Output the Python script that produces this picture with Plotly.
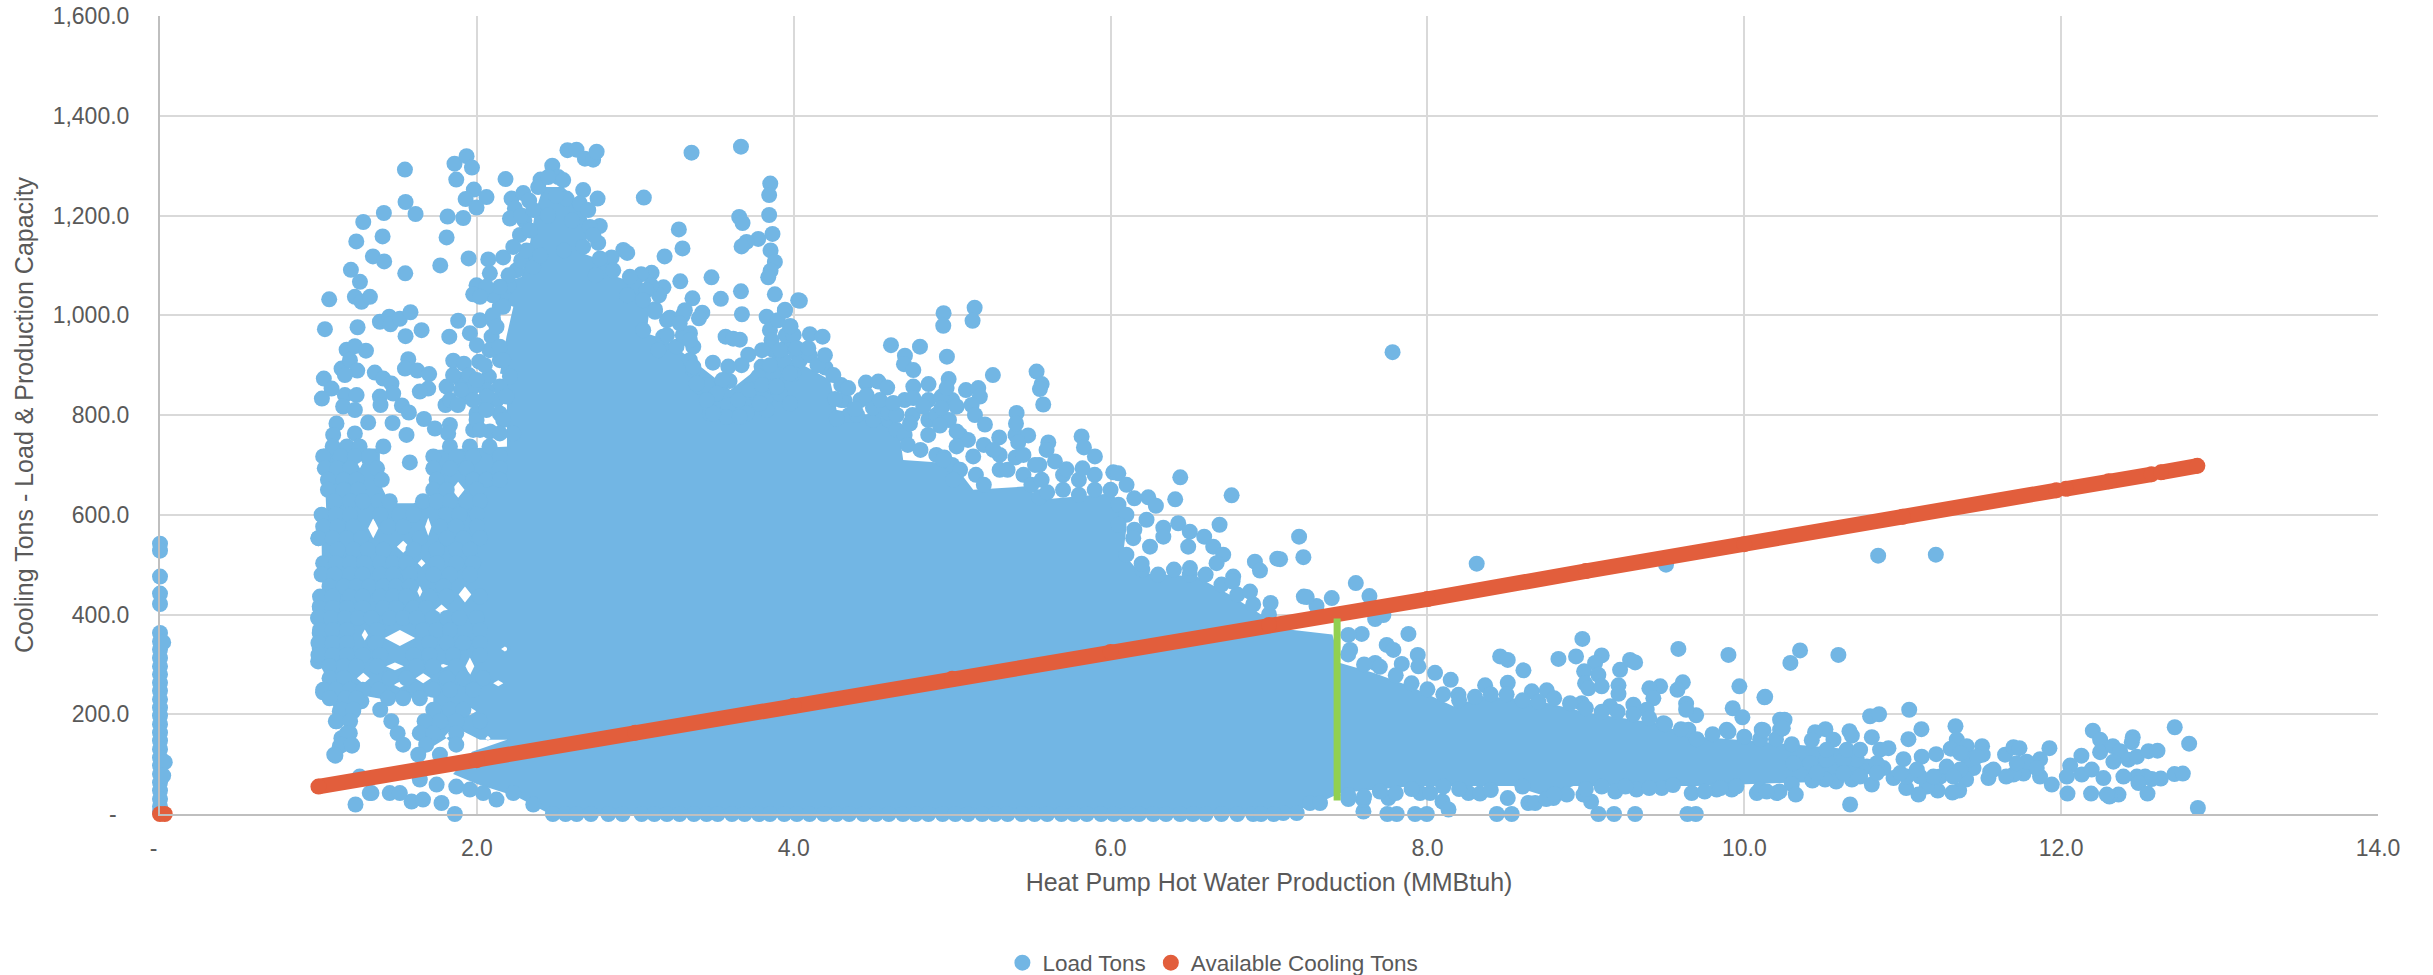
import plotly.graph_objects as go

FONT = "Liberation Sans"
TEXT = "#595959"
BLUE = "#72B6E4"
RED = "#E25E3C"
GREEN = "#92D050"

x_ticks = [0, 2, 4, 6, 8, 10, 12, 14]
x_labels = ["-\u00a0\u00a0", "2.0", "4.0", "6.0", "8.0", "10.0", "12.0", "14.0"]
y_ticks = [0, 200, 400, 600, 800, 1000, 1200, 1400, 1600]
y_labels = ["-\u00a0\u00a0", "200.0", "400.0", "600.0", "800.0", "1,000.0", "1,200.0", "1,400.0", "1,600.0"]

# Load Tons at zero production
zero_column_y = [542, 528, 476, 442, 421, 363, 346, 330, 313, 296, 280, 263, 247, 230, 213, 197, 180, 163,
                 147, 130, 113, 97, 80, 63, 47, 30, 15, 4]
zero_side = [(0.02, 344), (0.03, 104), (0.02, 77)]

# far-left band, read row by row
band_y = [737, 717, 693, 670, 650, 627, 600, 576, 553, 530, 503, 480, 456, 436, 413, 393, 369, 343, 319, 296,
          272, 249, 232, 209, 186, 162, 139, 119]
band_x = [
    [1.09, 1.18, 1.26, 1.41, 1.83, 1.956, 2.08],
    [1.03, 1.14, 1.23, 1.32, 1.725, 1.87, 1.977, 2.145],
    [1.04, 1.12, 1.2, 1.37, 1.725, 1.83, 1.935, 2.145],
    [1.06, 1.16, 1.24, 1.4, 1.746, 1.977, 2.06, 2.145],
    [1.06, 1.16, 1.25, 1.725, 1.81, 2.0],
    [1.1, 1.2, 1.28, 1.38, 1.45, 1.66, 1.746, 1.83, 1.935, 2.02],
    [1.02, 1.11, 1.2, 1.39, 1.51, 1.6, 1.81, 1.89, 2.0],
    [1.03, 1.12, 1.22, 1.44, 1.535, 1.767, 1.87, 2.0],
    [1.0, 1.09, 1.18, 1.27, 1.64, 1.81, 1.915, 2.02],
    [1.12, 1.22, 1.31, 1.41, 1.6, 1.746, 1.87, 1.956],
    [1.03, 1.11, 1.2, 1.29, 1.39, 1.47, 1.555, 1.746, 1.87, 1.977],
    [1.02, 1.1, 1.2, 1.28, 1.39, 1.47, 1.577, 1.725, 1.83, 1.956],
    [1.07, 1.16, 1.24, 1.32, 1.41, 1.49, 1.577, 1.79],
    [1.01, 1.09, 1.2, 1.28, 1.39, 1.47, 1.555, 1.7, 1.81, 2.02],
    [1.01, 1.09, 1.18, 1.28, 1.41, 1.49, 1.6, 1.68],
    [1.0, 1.08, 1.17, 1.25, 1.335, 1.45, 1.535, 1.62, 1.725, 1.81, 1.89, 2.0],
    [1.01, 1.09, 1.18, 1.37, 1.66, 1.746, 1.83, 2.02],
    [1.0, 1.09, 1.18, 1.36, 1.7, 1.81, 1.915, 2.02],
    [1.0, 1.09, 1.18, 1.28, 1.39, 1.6, 1.7, 1.85, 2.02],
    [1.07, 1.16, 1.24, 1.37, 1.62, 1.725, 1.87],
    [1.07, 1.16, 1.45, 1.555, 1.81, 1.915, 2.04],
    [1.03, 1.11, 1.2, 1.28, 1.38, 1.62, 1.725, 1.83, 1.977],
    [1.07, 1.17, 1.24, 1.44, 1.535, 1.64],
    [1.15, 1.22, 1.39, 1.725, 1.83, 1.915],
    [1.11, 1.2, 1.46, 1.67, 1.767, 1.87, 2.02],
    [1.18, 1.5, 1.64, 1.725, 1.87],
    [1.15, 1.21, 1.535, 1.68, 1.87],
    [1.1, 1.63, 1.767],
]
band_upper = [
    (1.0, 553), (1.05, 570), (1.135, 530), (1.05, 490), (1.008, 416), (0.998, 393), (1.008, 363), (1.008, 333),
    (0.998, 306), (1.029, 244), (1.114, 186), (1.135, 206), (1.219, 206), (1.271, 226), (1.198, 162),
    (1.145, 152), (1.212, 137), (1.135, 136), (1.107, 117), (1.577, 705),
]
bottom_left = [
    (1.335, 42), (1.45, 42), (1.588, 25), (1.66, 29), (1.777, 22), (1.234, 19), (1.861, 0), (1.746, 59),
    (1.64, 69), (1.26, 75), (1.956, 49), (2.124, 29), (2.23, 42), (2.356, 19), (2.04, 42), (1.87, 55), (1.514, 42),
    (1.324, 42),
]
top_left = [
    (1.546, 1292), (1.55, 1227), (1.613, 1203), (1.413, 1205), (1.283, 1187), (1.405, 1158), (1.239, 1148),
    (1.344, 1118), (1.415, 1108), (1.205, 1091), (1.548, 1084), (1.262, 1067), (1.068, 1032), (1.23, 1037),
    (1.272, 1027), (1.325, 1037), (1.041, 972), (1.247, 976), (1.388, 987), (1.447, 997), (1.455, 982),
    (1.514, 993), (1.581, 1006), (1.55, 958), (1.651, 970), (1.178, 931), (1.23, 938), (1.3, 929), (1.146, 893),
    (1.199, 910), (1.245, 889), (1.167, 880), (1.034, 873), (1.083, 853), (1.022, 833), (1.167, 840), (1.241, 840),
    (1.156, 817), (1.23, 810), (1.314, 785), (1.114, 783), (1.23, 763), (1.093, 760), (1.356, 885), (1.409, 873),
    (1.461, 863), (1.472, 843), (1.388, 837), (1.392, 820), (1.527, 819), (1.571, 805), (1.468, 784), (1.567, 912),
    (1.546, 893), (1.624, 889), (1.699, 882), (1.693, 853), (1.64, 847), (1.666, 792), (1.735, 773), (1.556, 760),
    (1.859, 1304), (1.935, 1319), (1.969, 1296), (1.87, 1272), (1.981, 1252), (2.061, 1237), (1.929, 1233),
    (1.998, 1216), (1.815, 1198), (1.914, 1195), (1.809, 1156), (1.948, 1114), (1.769, 1100), (2.072, 1112),
    (2.166, 1116), (2.082, 1084), (2.181, 1273), (2.219, 1234), (2.24, 1214), (2.293, 1245), (2.209, 1194),
    (2.272, 1161), (1.998, 1060), (1.977, 1042), (1.882, 989), (2.019, 990), (1.826, 957), (1.956, 964),
    (1.851, 909), (1.918, 903), (2.015, 907), (2.076, 877), (1.897, 871), (1.809, 857), (1.802, 820), (1.83, 830),
    (1.935, 837), (1.83, 780), (1.998, 803), (2.061, 817), (2.124, 830), (2.145, 857), (2.145, 910), (2.124, 930),
    (2.093, 957), (2.145, 1017), (2.103, 990), (2.166, 1044), (1.977, 857), (2.061, 850), (1.977, 770),
    (2.082, 767), (1.819, 763), (1.998, 790), (2.145, 803),
    (1.85, 880), (1.9, 850), (1.88, 820), (1.95, 880), (2.0, 870), (2.05, 900), (2.08, 930), (2.0, 940), (2.1, 1000),
    (2.1, 1040), (2.2, 1060), (2.25, 1090), (2.2, 1080), (2.28, 1110), (2.3, 1190), (2.33, 1230), (2.28, 1200),
]
top_middle = [
    (2.572, 1331), (2.629, 1332), (2.682, 1314), (2.734, 1312), (2.756, 1328), (2.476, 1300), (2.514, 1277),
    (2.402, 1272), (2.671, 1251), (2.762, 1234), (2.776, 1179), (2.766, 1145), (2.924, 1131), (2.949, 1125),
    (2.85, 1116), (3.355, 1326), (3.667, 1338), (3.054, 1236), (3.275, 1172), (3.298, 1134), (3.185, 1118),
    (3.481, 1076), (3.284, 1068), (3.178, 1056), (3.103, 1085), (3.037, 1082), (3.667, 1048), (3.54, 1033),
    (3.361, 1034), (3.423, 1005), (3.313, 1010), (3.402, 994), (3.218, 995), (3.673, 1002), (3.124, 1012),
    (3.852, 1264), (3.845, 1241), (3.845, 1201), (3.656, 1197), (3.677, 1185), (3.866, 1163), (3.776, 1153),
    (3.702, 1147), (3.671, 1138), (3.854, 1130), (3.881, 1107), (3.854, 1089), (3.839, 1076), (3.881, 1042),
    (4.028, 1030), (3.944, 1009), (3.829, 997), (3.98, 978), (3.85, 970), (3.57, 957), (3.66, 951), (3.618, 953),
    (3.713, 921), (3.671, 900), (3.587, 897), (3.49, 905), (3.595, 868), (3.797, 897), (3.776, 877), (3.871, 930),
    (3.86, 950), (3.955, 937), (3.587, 820), (3.715, 815), (3.513, 843), (3.828, 837), (3.87, 883),
    (3.176, 957), (3.26, 937), (3.345, 964), (3.366, 937), (3.345, 910), (3.366, 890), (3.492, 843), (3.408, 857),
    (3.471, 803), (3.576, 796), (3.702, 803), (3.829, 810), (3.913, 843), (3.997, 883), (3.934, 910), (4.018, 923),
    (3.871, 857), (3.976, 823),
    (3.55, 870), (3.65, 830), (3.72, 850), (3.8, 860), (3.85, 900), (3.8, 930), (3.95, 960), (3.9, 990), (4.0, 960),
    (3.45, 860), (3.3, 1000), (3.3, 960), (3.2, 990), (3.15, 1040), (3.0, 1060), (3.1, 1060),
]
core_edge_top = [
    (2.335, 1170), (2.356, 1211), (2.387, 1257), (2.45, 1277), (2.545, 1271), (2.566, 1234), (2.65, 1224),
    (2.703, 1211), (2.713, 1177), (2.735, 1161), (2.671, 1137), (2.777, 1114), (2.861, 1090), (2.966, 1077),
    (3.07, 1050), (3.05, 1030), (3.124, 1007), (3.05, 970), (3.145, 930), (3.28, 984), (3.345, 950), (3.366, 897),
    (3.387, 863), (3.513, 843), (3.492, 803), (3.66, 796), (3.786, 823), (3.892, 857), (3.976, 883), (3.913, 930),
    (4.04, 910), (2.356, 1097), (2.314, 1130), (2.23, 1137), (2.145, 1057), (2.06, 1057), (2.02, 1037),
    (2.166, 1017), (2.124, 977), (2.145, 937), (2.166, 910), (2.209, 877), (2.061, 837), (2.187, 837), (1.977, 830),
    (2.06, 810), (2.166, 790), (2.23, 763), (2.02, 770), (2.145, 763), (2.5, 1240), (2.45, 1200), (2.6, 1190),
    (2.4, 1120), (2.55, 1130), (2.75, 1080), (2.95, 1040), (3.2, 960), (3.45, 830),
]
core_edge_mid = [
    (4.1, 920), (4.2, 895), (4.3, 860), (4.32, 830), (4.35, 800), (4.4, 800), (4.5, 790), (4.55, 810), (4.6, 790),
    (4.65, 770), (4.7, 760), (4.72, 740), (4.8, 730), (4.9, 720), (4.95, 715), (5.0, 700), (5.05, 690), (5.15, 680),
    (5.2, 660), (5.3, 690), (5.35, 690), (5.45, 680), (5.5, 660), (5.55, 635), (5.6, 645), (5.7, 650), (5.8, 640),
    (5.9, 650), (6.0, 650), (6.05, 620), (6.1, 600), (6.15, 570), (6.05, 580), (6.1, 520), (6.2, 490), (6.3, 480),
    (6.4, 490), (6.5, 480), (6.6, 480), (6.7, 460), (6.8, 440), (6.9, 420), (7.0, 400),
    (4.3, 830), (4.42, 830), (4.5, 815), (4.6, 805), (4.65, 800), (4.7, 830), (4.75, 800), (4.85, 790), (4.9, 800),
    (4.98, 790), (5.05, 760), (5.1, 750), (5.2, 740), (5.3, 720), (5.4, 715), (5.45, 720), (5.55, 700), (5.7, 680),
    (5.8, 670), (5.9, 680), (5.4, 760), (5.0, 830), (4.85, 830), (4.25, 880), (4.15, 900),
]
upper_right = [
    (4.039, 1029), (3.945, 1011), (3.976, 978), (4.102, 962), (4.182, 957), (4.197, 920), (4.018, 934), (4.092, 934),
    (4.614, 940), (4.797, 937), (4.702, 919), (4.696, 902), (4.755, 890), (4.946, 1004), (4.944, 979), (5.142, 1015),
    (5.129, 989), (4.967, 917), (5.257, 880), (4.978, 872), (4.851, 862), (4.755, 857), (4.456, 865), (4.534, 867),
    (4.59, 855), (4.344, 854), (4.46, 840), (4.544, 830), (4.628, 824), (5.087, 850), (5.165, 854), (5.175, 837),
    (5.533, 887), (5.565, 862), (5.554, 852), (5.575, 821), (4.933, 837), (4.965, 854), (4.933, 814), (4.755, 834),
    (4.818, 817), (4.386, 812), (4.271, 793), (4.26, 832), (5.123, 820), (5.407, 804), (5.403, 783), (5.144, 800),
    (5.207, 781), (4.923, 779), (4.734, 783), (5.028, 817), (5.028, 767), (5.028, 737), (4.849, 760), (5.297, 755),
    (5.48, 759), (5.417, 745), (5.607, 745), (5.817, 757), (5.832, 735), (5.901, 717), (5.596, 730), (5.649, 707),
    (5.722, 691), (5.823, 693), (6.017, 685), (6.049, 683), (6.101, 660), (6.44, 675), (6.408, 631), (6.764, 639),
    (6.238, 635), (6.15, 633), (6.286, 618), (6.688, 580), (6.427, 583), (6.5, 566), (6.333, 574), (6.227, 590),
    (6.591, 556), (6.648, 536), (6.711, 520), (6.49, 536), (6.333, 556), (6.249, 536), (6.911, 506), (6.943, 488),
    (7.052, 512), (6.774, 476), (6.669, 503), (6.196, 502), (6.501, 493), (5.133, 717), (5.523, 700), (5.26, 730),
    (4.944, 710), (5.007, 670), (5.565, 670), (6.143, 553),
    (7.19, 556), (7.217, 515), (7.07, 511), (6.77, 466), (6.88, 446), (7.01, 423), (7.22, 436), (7.3, 417),
    (7.548, 463), (7.634, 437), (7.396, 433), (7.238, 435),
]
tail_upper = [
    (8.311, 502), (9.506, 500), (7.88, 361), (7.67, 391), (7.722, 399), (7.585, 361), (7.501, 359), (7.512, 329),
    (7.743, 339), (7.785, 329), (7.838, 301), (7.939, 319), (7.67, 303), (7.943, 296), (8.048, 283), (8.147, 269),
    (8.196, 239), (8.364, 258), (8.507, 263), (8.459, 316), (8.507, 309), (8.606, 288), (8.659, 246), (8.753, 248),
    (8.827, 311), (8.938, 316), (8.978, 351), (9.1, 318), (9.058, 303), (8.989, 286), (9.079, 279), (8.995, 262),
    (9.016, 252), (9.1, 256), (9.206, 258), (9.206, 241), (9.216, 289), (9.279, 309), (9.311, 304), (9.584, 331),
    (9.9, 319), (9.969, 256), (10.127, 234), (9.927, 212), (9.988, 194), (9.612, 264), (9.578, 249), (9.469, 256),
    (9.401, 252), (9.426, 232), (9.633, 221), (9.696, 198), (9.633, 209), (9.153, 216), (9.3, 219), (9.384, 209),
    (8.974, 222), (10.226, 189), (10.11, 169), (10.226, 169), (9.49, 182), (9.647, 169), (9.889, 169),
    (7.5, 320), (7.6, 300), (7.7, 295), (7.8, 278), (7.9, 262), (8.0, 250), (8.1, 240), (8.2, 228), (8.3, 235),
    (8.4, 240), (8.5, 240), (8.6, 228), (8.7, 225), (8.8, 232), (8.9, 222), (9.0, 212), (9.1, 205), (9.2, 205),
    (9.3, 200), (9.4, 192), (9.5, 180), (9.6, 170), (9.7, 150), (9.8, 160), (9.9, 165), (10.0, 155), (10.1, 150),
    (10.2, 150), (10.3, 140),
]
tail_lower = [
    (7.175, 2), (7.09, 2), (7.596, 5), (7.747, 0), (7.806, 0), (7.922, 0), (7.996, 0), (8.095, 25), (8.133, 9),
    (8.438, 0), (8.532, 0), (9.079, 0), (9.178, 0), (9.311, 0), (9.641, 0), (9.694, 0), (9.033, 25), (7.259, 22),
    (7.322, 22), (7.501, 30), (7.596, 29), (7.754, 32), (7.954, 42), (8.017, 42), (8.259, 42), (8.332, 41),
    (8.507, 32), (8.637, 22), (8.68, 22), (8.795, 32), (8.88, 39), (8.985, 39), (9.185, 45), (9.32, 49), (9.479, 52),
    (9.668, 42), (9.826, 49), (9.921, 49), (10.079, 42), (10.205, 42),
    (7.5, 38), (7.6, 35), (7.7, 45), (7.8, 42), (7.9, 50), (8.1, 55), (8.2, 50), (8.4, 48), (8.6, 55), (8.75, 30),
    (8.8, 40), (9.0, 50), (9.1, 55), (9.25, 55), (9.4, 52), (9.55, 58), (9.75, 45), (9.85, 52), (9.95, 55),
    (10.1, 50), (10.3, 60),
]
far_right = [
    (10.845, 518), (11.209, 520), (10.352, 328), (10.291, 303), (10.594, 319), (10.132, 235), (10.254, 189),
    (10.243, 172), (10.121, 168), (10.794, 196), (10.851, 200), (11.041, 209), (11.118, 170), (11.036, 150),
    (11.333, 176), (10.805, 154), (10.664, 166), (10.679, 157), (10.512, 170), (10.447, 164), (10.426, 148),
    (10.563, 149), (10.91, 132), (10.857, 129), (11.005, 110), (11.12, 115), (11.211, 120), (11.341, 149),
    (11.303, 131), (11.404, 136), (11.501, 136), (11.505, 119), (11.646, 119), (11.699, 134), (11.737, 132),
    (11.926, 132), (11.867, 110), (12.128, 117), (12.057, 97), (12.2, 167), (12.246, 149), (12.246, 124),
    (12.326, 136), (12.452, 154), (12.446, 144), (12.372, 126), (12.33, 105), (12.425, 109), (12.478, 115),
    (12.551, 126), (12.608, 127), (12.717, 174), (12.808, 141), (12.715, 80), (12.768, 81), (12.863, 12),
    (12.629, 71), (12.572, 70), (12.53, 75), (12.478, 75), (12.488, 62), (12.545, 41), (12.362, 39), (12.305, 35),
    (12.288, 39), (12.189, 41), (12.04, 41), (11.941, 59), (11.867, 75), (11.762, 81), (11.699, 79), (11.653, 75),
    (11.552, 85), (11.541, 72), (11.447, 92), (11.4, 69), (11.356, 47), (11.314, 43), (11.221, 47), (11.152, 55),
    (11.099, 39), (11.022, 52), (10.942, 72), (10.878, 92), (10.805, 59), (10.679, 69), (10.668, 19), (10.58, 65),
    (10.51, 69), (10.43, 67), (10.325, 39), (10.222, 45), (10.142, 45), (12.13, 79), (12.193, 89), (12.267, 72),
    (12.393, 75), (12.036, 75), (11.783, 105), (11.415, 109), (11.362, 122), (11.236, 75), (11.11, 75), (11.026, 75),
    (10.773, 95), (10.71, 109), (10.626, 109), (10.52, 109), (10.416, 102), (10.31, 102), (10.836, 102), (10.731, 75),
    (10.626, 82), (10.458, 82), (10.52, 129), (10.647, 129), (10.731, 129), (10.836, 82), (11.278, 95), (11.362, 89),
    (11.468, 115), (11.194, 75), (11.089, 89), (10.984, 82), (11.32, 75), (11.573, 89), (11.72, 102), (11.846, 92),
    (7.78, 926),
]
axis_row_x = [2.48, 2.56, 2.63, 2.72, 2.83, 2.92, 3.04, 3.12, 3.2, 3.28, 3.37, 3.45, 3.52, 3.61, 3.69, 3.78, 3.85,
              3.94, 4.02, 4.1, 4.19, 4.27, 4.35, 4.44, 4.52, 4.6, 4.69, 4.77, 4.85, 4.94, 5.02, 5.1, 5.19, 5.27,
              5.35, 5.44, 5.52, 5.6, 5.69, 5.77, 5.85, 5.94, 6.02, 6.1, 6.18, 6.27, 6.35, 6.44, 6.52, 6.6, 6.7,
              6.8, 6.9, 6.95, 7.03]

# outlines of the regions where the points overlap into a solid mass
core_x = [2.19, 2.19, 1.97, 1.85, 2.0, 2.25, 2.46, 7.1, 7.3, 7.449, 7.912, 8.543, 8.753, 8.921, 9.426, 9.7, 10.226,
          10.75, 10.75, 10.226, 9.679, 9.448, 9.027, 8.669, 8.353, 8.164, 7.891, 7.659, 7.449, 7.4, 7.07, 6.95, 6.75,
          6.543, 6.185, 6.08, 6.101, 6.017, 5.554, 5.47, 5.133, 5.007, 4.691, 4.67, 4.544, 4.271, 4.229, 4.039, 3.9,
          3.6, 3.4, 3.2, 3.071, 3.092, 3.071, 2.882, 2.84, 2.671, 2.713, 2.671, 2.545, 2.419, 2.366, 2.335, 2.282,
          2.166, 2.061, 2.23, 2.187, 2.146]
core_y = [880, 149, 125, 80, 60, 35, 0, 0, 20, 42, 56, 56, 35, 56, 56, 56, 62,
          66, 128, 142, 156, 182, 202, 229, 236, 216, 256, 283, 303, 360, 372, 400, 440,
          476, 483, 523, 576, 643, 630, 657, 650, 703, 710, 757, 797, 810, 870, 904, 925,
          850, 900, 950, 964, 1017, 1057, 1077, 1104, 1124, 1177, 1217, 1257, 1257, 1204, 1144, 1077,
          1064, 1037, 1017, 957, 883]
core_holes = [(4.586, 670, 0.04, 10), (4.039, 777, 0.03, 16), (5.133, 683, 0.03, 11), (4.712, 748, 0.025, 6)]

band_fill_x = [1.03, 1.388, 1.388, 1.451, 1.6, 1.704, 1.725, 2.21, 2.21, 2.019, 1.893, 1.725, 1.619, 1.725, 1.725,
               1.43, 1.304, 1.241, 1.13, 1.093, 1.04, 1.03, 1.02, 1.05, 1.04]
band_fill_y = [733, 733, 663, 623, 623, 637, 730, 737, 149, 149, 169, 136, 176, 216, 236,
               229, 236, 216, 182, 216, 242, 309, 550, 603, 683]
band_holes = [(1.262, 703, 0.016, 10), (1.882, 650, 0.04, 16), (1.346, 573, 0.032, 20),
              (1.535, 536, 0.04, 12), (1.693, 576, 0.02, 18), (1.651, 503, 0.024, 8), (1.64, 446, 0.016, 11),
              (1.925, 440, 0.04, 16), (1.777, 409, 0.04, 11), (1.293, 359, 0.02, 11), (1.514, 353, 0.096, 16),
              (1.483, 296, 0.056, 8), (1.661, 272, 0.048, 10), (1.283, 272, 0.04, 11), (1.514, 259, 0.04, 6),
              (1.788, 297, 0.032, 4), (1.956, 296, 0.028, 18), (2.177, 331, 0.024, 5), (2.135, 262, 0.032, 6),
              (1.956, 206, 0.04, 8), (1.83, 156, 0.032, 11), (2.07, 152, 0.016, 5)]

green_x = [7.43, 7.43]
green_y = [392, 27]

red_x = [1.0, 2.0, 3.0, 4.0, 5.0, 6.0, 7.0, 8.0, 9.0, 10.0, 11.0, 11.97, None, 12.03, 12.3, 12.57, None, 12.63, 12.86]
red_y = [55, 108, 163, 217, 271, 325, 379, 431, 487, 541, 596, 649, None, 652, 667, 681, None, 685, 698]
red_origin_x = [0.0, 0.03]
red_origin_y = [0, 0]


def with_holes(xs, ys, holes):
    """Outline plus counter-wound diamond sub-paths, so the white gaps stay open."""
    out_x, out_y = list(xs), list(ys)
    for cx, cy, dx, dy in holes:
        out_x += [None, cx, cx - dx, cx, cx + dx]
        out_y += [None, cy + dy, cy, cy - dy, cy]
    return out_x, out_y


pairs = (zero_side + band_upper + bottom_left + top_left + top_middle + core_edge_top + core_edge_mid
         + upper_right + tail_upper + tail_lower + far_right)
load_x = [0] * len(zero_column_y) + [p[0] for p in pairs] + axis_row_x
load_y = list(zero_column_y) + [p[1] for p in pairs] + [0] * len(axis_row_x)
for row_y, row_x in zip(band_y, band_x):
    load_x += row_x
    load_y += [row_y] * len(row_x)

fig = go.Figure()
for xs, ys, holes in ((core_x, core_y, core_holes), (band_fill_x, band_fill_y, band_holes)):
    fx, fy = with_holes(xs, ys, holes)
    fig.add_trace(go.Scatter(x=fx, y=fy, mode="lines", fill="toself", fillcolor=BLUE,
                             line=dict(width=0, color=BLUE), showlegend=False, hoverinfo="skip"))
fig.add_trace(go.Scatter(x=load_x, y=load_y, mode="markers", name="Load Tons", cliponaxis=False,
                         marker=dict(color=BLUE, size=16, line=dict(width=0))))
fig.add_trace(go.Scatter(x=red_x, y=red_y, mode="lines", line=dict(color=RED, width=15.5), cliponaxis=False,
                         showlegend=False, hoverinfo="skip"))
fig.add_trace(go.Scatter(x=[v for v in red_x if v is not None] + red_origin_x,
                         y=[v for v in red_y if v is not None] + red_origin_y,
                         mode="markers", name="Available Cooling Tons", cliponaxis=False,
                         marker=dict(color=RED, size=16, line=dict(width=0))))
fig.add_trace(go.Scatter(x=green_x, y=green_y, mode="lines", line=dict(color=GREEN, width=7), showlegend=False,
                         hoverinfo="skip"))

fig.update_layout(
    width=2433, height=975, autosize=False,
    margin=dict(l=160, r=55, t=16, b=161, pad=0),
    paper_bgcolor="white", plot_bgcolor="white",
    font=dict(family=FONT, size=23, color=TEXT),
    legend=dict(orientation="h", xref="container", yref="container", x=0.412, xanchor="left",
                y=0.0123, yanchor="middle", font=dict(family=FONT, size=22.5, color=TEXT),
                itemsizing="trace", bgcolor="rgba(0,0,0,0)"),
    xaxis=dict(range=[0, 14], tickmode="array", tickvals=x_ticks, ticktext=x_labels, showgrid=True,
               gridcolor="#D9D9D9", gridwidth=2, zeroline=False, showline=True, linecolor="#BFBFBF", linewidth=2,
               ticks="", ticklabelstandoff=12, automargin=False,
               title=dict(text="Heat Pump Hot Water Production (MMBtuh)", standoff=14,
                          font=dict(family=FONT, size=25, color=TEXT))),
    yaxis=dict(range=[0, 1600], tickmode="array", tickvals=y_ticks, ticktext=y_labels, showgrid=True,
               gridcolor="#D9D9D9", gridwidth=2, zeroline=False, showline=True, linecolor="#BFBFBF", linewidth=2,
               ticks="", ticklabelstandoff=24, automargin=False,
               title=dict(text="Cooling Tons - Load & Production Capacity", standoff=12,
                          font=dict(family=FONT, size=25, color=TEXT))),
)
fig.write_html("out.html", post_script="document.body.style.margin='0';", config={"displayModeBar": False})
